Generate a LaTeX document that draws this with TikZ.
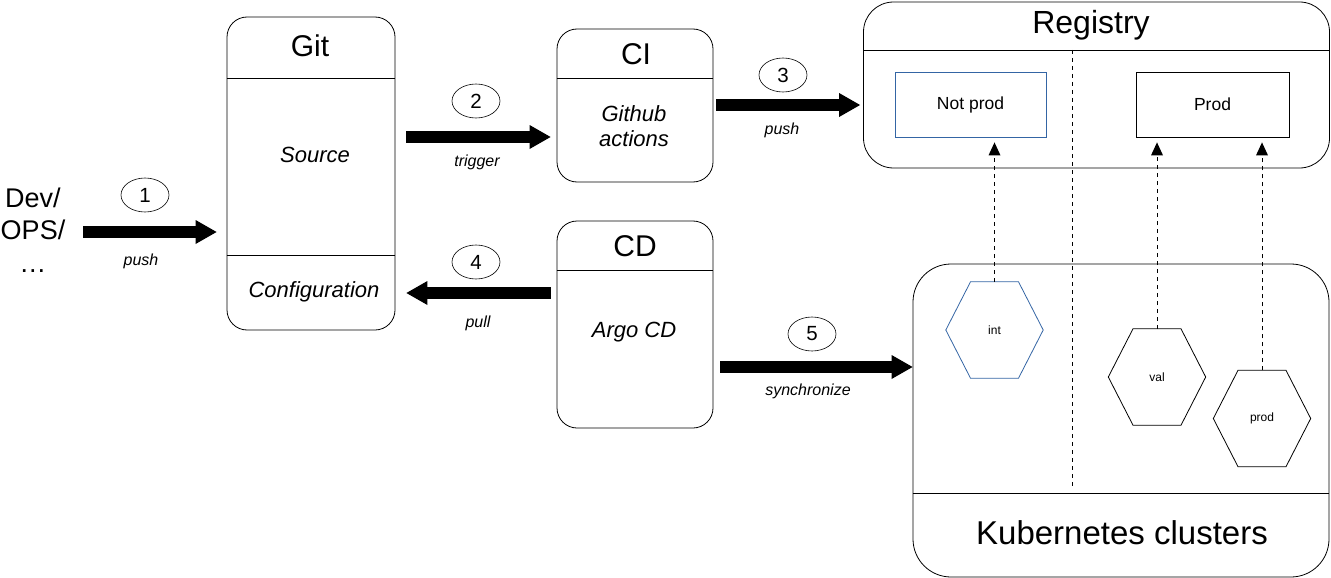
\documentclass[tikz,border=0pt]{standalone}
\usepackage{fontspec}
\setmainfont{Liberation Sans}
\usetikzlibrary{arrows.meta,shapes.geometric}
\definecolor{hexblue}{RGB}{52,101,164}
\newcommand{\drawhexagon}[2][]{\draw[#1] (#2.west) -- ([xshift=-24pt]#2.north) -- ([xshift=24pt]#2.north) -- (#2.east) -- ([xshift=24pt]#2.south) -- ([xshift=-24pt]#2.south) -- cycle;}
\begin{document}
\begin{tikzpicture}[x=1pt,y=-1pt,
  box/.style={draw, rounded corners=20pt, inner sep=0pt, line width=0.8pt},
  sep/.style={line width=0.8pt},
  title/.style={font=\fontsize{30}{36}\selectfont, inner sep=0pt},
  sub/.style={font=\fontsize{22}{25}\selectfont\itshape, align=center, inner sep=0pt},
  lbl/.style={font=\fontsize{16}{19}\selectfont\itshape, inner sep=0pt},
  num/.style={draw, ellipse, line width=0.6pt, minimum width=48pt, minimum height=34pt, inner sep=0pt, font=\fontsize{20.5}{24}\selectfont},
  bigarrow/.style={line width=12.5pt, -{Triangle[length=21pt,width=24pt,line width=0pt]}},
  dashline/.style={line width=0.8pt, dash pattern=on 4pt off 4pt},
  dasharrow/.style={dashline, -{Triangle[length=13pt,width=12pt,line width=0pt]}, shorten >=5pt},
  hexnode/.style={minimum width=97pt, minimum height=96pt, inner sep=0pt, font=\fontsize{12}{14}\selectfont},
  regbox/.style={draw, line width=0.8pt, minimum width=152pt, minimum height=65pt, inner sep=0pt, font=\fontsize{17.5}{20}\selectfont}
]
\useasboundingbox (0,0) rectangle (1331,578);

% Dev/OPS
\node[align=center, font=\fontsize{27}{32.5}\selectfont, inner sep=0pt] (dev) at (33,230) {Dev/\\OPS/\\…};

% Git
\node[box, minimum width=168pt, minimum height=313pt] (git) at (311,173.5) {};
\draw[sep] (git.west |- 0,78) -- (git.east |- 0,78);
\draw[sep] (git.west |- 0,255) -- (git.east |- 0,255);
\node[title] (gitt) at (310,46) {Git};
\node[sub] (src) at (315,155) {Source};
\node[sub] (conf) at (314,292) {Configuration};

% CI
\node[box, minimum width=156pt, minimum height=153pt] (ci) at (635,105.5) {};
\draw[sep] (ci.west |- 0,78) -- (ci.east |- 0,78);
\node[title] (cit) at (636,54) {CI};
\node[sub] (gha) at (634,126) {Github\\actions};

% CD
\node[box, minimum width=156pt, minimum height=207pt] (cd) at (635,324.5) {};
\draw[sep] (cd.west |- 0,270) -- (cd.east |- 0,270);
\node[title] (cdt) at (635,246) {CD};
\node[sub] (argo) at (634,332) {Argo CD};

% Registry
\node[box, rounded corners=30pt, minimum width=466pt, minimum height=166pt] (reg) at (1096.5,85) {};
\draw[sep] (reg.west |- 0,50) -- (reg.east |- 0,50);
\node[title, font=\fontsize{32}{36}\selectfont] (regt) at (1091,25) {Registry};
\node[regbox, draw=hexblue, minimum width=151pt] (np) at (970.5,104.5) {Not prod};
\node[regbox, minimum width=153pt] (pr) at (1212.5,104.5) {Prod};

% Kubernetes
\node[box, rounded corners=38pt, minimum width=416pt, minimum height=313pt] (kube) at (1121,420.5) {};
\draw[sep] (kube.west |- 0,493) -- (kube.east |- 0,493);
\node[title, font=\fontsize{33}{38}\selectfont] (kubet) at (1122,533) {Kubernetes clusters};

% divider
\coordinate (divtop) at (1072,50);
\coordinate (divbot) at (1072,487);
\draw[dashline] (divtop) -- (divbot);

% hexagons
\node[hexnode] (int) at (994.5,330) {int};
\node[hexnode] (val) at (1157,377) {val};
\node[hexnode] (prod) at (1262,418.5) {prod};
\drawhexagon[hexblue, line width=0.8pt]{int}
\drawhexagon[line width=0.8pt]{val}
\drawhexagon[line width=0.8pt]{prod}

% dashed arrows
\draw[dasharrow] (int.north) -- (int.north |- np.south);
\draw[dasharrow] (val.north) -- (val.north |- pr.south);
\draw[dasharrow] (prod.north) -- (prod.north |- pr.south);

% block arrows
\coordinate (a1s) at (83,232);
\draw[bigarrow, shorten >=10pt] (a1s) -- (git.west |- a1s);
\draw[bigarrow, shorten <=11pt, shorten >=6pt] (git.east |- 0,137) -- (ci.west |- 0,137);
\draw[bigarrow, shorten <=3pt, shorten >=3pt] (ci.east |- 0,105) -- (reg.west |- 0,105);
\draw[bigarrow, shorten <=6pt, shorten >=11pt] (cd.west |- 0,293) -- (git.east |- 0,293);
\draw[bigarrow, shorten <=7pt] (cd.east |- 0,367) -- (kube.west |- 0,367);

% step numbers
\node[num] (n1) at (145,195) {1};
\node[num] (n2) at (476,101) {2};
\node[num] (n3) at (783,75) {3};
\node[num] (n4) at (476,262) {4};
\node[num] (n5) at (812,334) {5};

% labels
\node[lbl] (l1) at (141,261) {push};
\node[lbl] (l2) at (477,162) {trigger};
\node[lbl] (l3) at (782,130) {push};
\node[lbl] (l4) at (478,323) {pull};
\node[lbl] (l5) at (808,391) {synchronize};
\end{tikzpicture}
\end{document}
